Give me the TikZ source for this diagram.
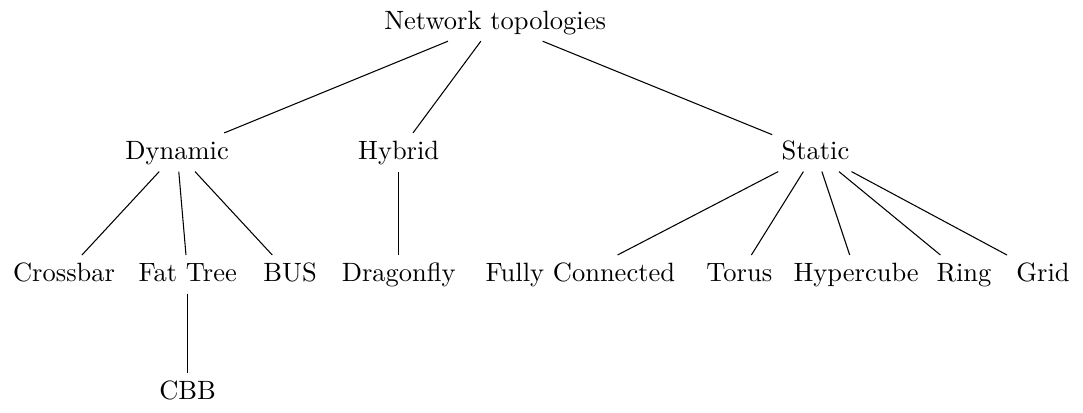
\documentclass[tikz,border=0pt]{standalone}
\begin{document}
\begin{tikzpicture}[every node/.style={text height=1.5ex, text depth=.25ex}]
  \useasboundingbox (0,0) rectangle (14.37,-5.47);
  \node (net) at (6.57,-0.29) {Network topologies};
  \node (dyn) at (2.35,-2.02) {Dynamic}; \node (hyb) at (5.29,-2.02)
  {Hybrid}; \node (sta) at (10.82,-2.02) {Static};
  \node (cross) at (0.85,-3.64) {Crossbar}; \node (fat) at
  (2.49,-3.64) {Fat Tree}; \node (bus) at (3.85,-3.64) {BUS};
  \node (drag) at (5.29,-3.64) {Dragonfly}; \node (full) at
  (7.70,-3.64) {Fully Connected}; \node (torus) at (9.81,-3.64)
  {Torus}; \node (hyper) at (11.36,-3.64) {Hypercube}; \node (ring)
  at (12.79,-3.64) {Ring}; \node (grid) at (13.84,-3.64) {Grid};
  \node (cbb) at (2.49,-5.20) {CBB};
  \foreach \a/\b in {net/dyn, net/hyb, net/sta, dyn/cross, dyn/fat,
    dyn/bus, hyb/drag, sta/full, sta/torus, sta/hyper, sta/ring,
    sta/grid, fat/cbb}
    \draw (\a) -- (\b);
\end{tikzpicture}
\end{document}
